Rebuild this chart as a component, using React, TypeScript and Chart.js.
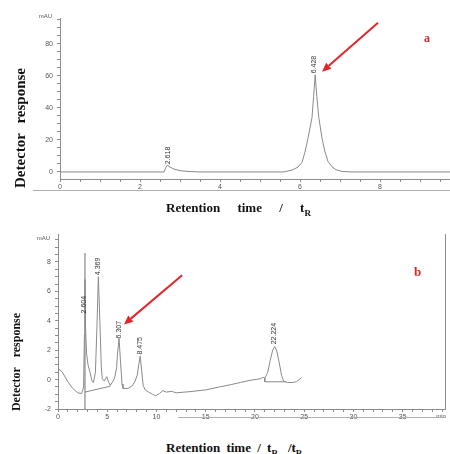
import React, { useEffect, useRef } from "react";
import { Chart, registerables } from "chart.js";

Chart.register(...registerables);

// ---------- Panel a ----------
const TOP_TIME = [0, 1.0, 2.0, 2.6, 2.64, 2.68, 2.75, 2.85, 3.0, 3.2, 3.5, 4.5, 5.6, 5.8, 5.95, 6.05, 6.12, 6.2, 6.3, 6.34, 6.38, 6.42, 6.47, 6.55, 6.62, 6.7, 6.8, 6.9, 7.05, 7.3, 8.5, 9.75];
const TOP_SIGNAL = [0, 0, 0, 0, 2.5, 4.2, 3.0, 1.8, 0.8, 0.3, 0, 0, 0, 1.2, 3.0, 6, 12, 21, 34, 47, 60.6, 47, 34, 21, 13, 6.5, 3.2, 1.4, 0.3, 0, 0, 0];
const TOP_PEAK_LABELS = ["2.618", "6.428"];
const TOP_PEAK_TIMES = [2.7, 6.36];
const TOP_PEAK_BASES = [4.8, 61.5];
const TOP_Y_MAJOR = [0, 20, 40, 60, 80];
const TOP_X_MAJOR = [0, 2, 4, 6, 8];
const TOP_ARROW = { from: [7.95, 93], to: [6.55, 62.5] };

// ---------- Panel b ----------
const BOT_TIME = [0, 0.4, 1.0, 1.5, 2.0, 2.4, 2.6, 2.68, 2.74, 2.8, 2.9, 3.05, 3.25, 3.45, 3.6, 3.8, 3.95, 4.1, 4.25, 4.4, 4.5, 4.7, 4.95, 5.1, 5.3, 5.55, 5.75, 5.95, 6.05, 6.2, 6.35, 6.5, 6.6, 7.1, 7.5, 7.8, 8.05, 8.2, 8.35, 8.5, 8.65, 8.85, 9.2, 9.6, 9.9, 10.3, 10.65, 11.0, 11.55, 12.0, 13.4, 15.0, 16.4, 17.5, 18.5, 19.5, 20.5, 20.8, 21.0, 21.3, 21.55, 21.8, 22.0, 22.2, 22.45, 22.7, 22.9, 23.3, 23.8, 24.2, 24.5, 24.75];
const BOT_SIGNAL = [0.75, 0.55, -0.15, -0.6, -0.9, -0.95, -0.5, 3.0, 6.8, 3.5, 1.8, 1.0, 0.5, -0.1, -0.2, 0.5, 3.5, 7.0, 4.0, 0.8, 0.05, -0.1, 0.2, -0.1, -0.4, -0.15, 0.1, 0.8, 1.8, 2.8, 1.2, -0.3, -0.6, -0.6, -0.45, -0.15, 0.3, 1.0, 1.6, 0.6, -0.4, -0.7, -0.85, -1.0, -1.1, -0.95, -0.75, -0.85, -0.8, -0.9, -0.82, -0.7, -0.5, -0.35, -0.2, -0.05, 0.05, 0.15, 0.1, 0.5, 1.3, 2.0, 2.25, 2.0, 1.2, 0.3, -0.1, -0.2, -0.2, -0.15, 0.0, 0.15];
const BOT_SPIKE_TIME = [2.74, 2.74];
const BOT_SPIKE_SIGNAL = [-2, 8.6];
const BOT_BASE1_TIME = [2.74, 5.3];
const BOT_BASE1_SIGNAL = [-0.85, -0.45];
const BOT_BASE2_TIME = [21.0, 21.0, 23.1];
const BOT_BASE2_SIGNAL = [0.1, -0.15, -0.15];
const BOT_PEAK_LABELS = ["2.604", "4.369", "6.307", "8.475", "22.224"];
const BOT_PEAK_TIMES = [2.62, 4.05, 6.2, 8.3, 21.9];
const BOT_PEAK_BASES = [4.5, 7.1, 2.8, 1.7, 2.4];
const BOT_Y_MAJOR = [-2, 0, 2, 4, 6, 8];
const BOT_X_MAJOR = [0, 5, 10, 15, 20, 25, 30, 35];
const BOT_ARROW = { from: [12.6, 7.1], to: [6.7, 3.75] };

const TRACE = "#8a8a8a";
const AXIS = "#8c8c8c";
const TICKTXT = "#555";
const SANS = '"Liberation Sans", Arial, sans-serif';
const SERIF = '"Liberation Serif", "Times New Roman", serif';

const pts = (xs: number[], ys: number[]) => xs.map((x, i) => ({ x, y: ys[i] }));
const range = (a: number, b: number, s: number) => {
  const out: number[] = [];
  for (let v = a; v <= b + 1e-9; v += s) out.push(Math.round(v * 100) / 100);
  return out;
};

type OverlayCfg = {
  labels: string[];
  times: number[];
  bases: number[];
  arrow: { from: number[]; to: number[] };
  mauDy: number;
  minLabel: boolean;
  rightBorder: boolean;
  frameY: number;
  frameX0: number;
};

const overlay = (cfg: OverlayCfg) => ({
  id: "overlay",
  afterDatasetsDraw(chart: any) {
    const { ctx, chartArea, scales } = chart;
    const x = scales.x;
    const y = scales.y;
    ctx.save();
    ctx.fillStyle = TICKTXT;
    ctx.font = `6px ${SANS}`;
    ctx.textAlign = "right";
    ctx.textBaseline = "middle";
    ctx.fillText("mAU", chartArea.left - 8, chartArea.top + cfg.mauDy);
    if (cfg.minLabel) {
      ctx.textAlign = "center";
      ctx.font = `6px ${SANS}`;
      ctx.fillText("min", chartArea.right - 4, chartArea.bottom + 7);
    }
    if (cfg.rightBorder) {
      ctx.strokeStyle = AXIS;
      ctx.lineWidth = 1;
      ctx.beginPath();
      ctx.moveTo(chartArea.right + 0.5, chartArea.top);
      ctx.lineTo(chartArea.right + 0.5, chartArea.bottom);
      ctx.stroke();
    }
    ctx.strokeStyle = "#b0b0b0";
    ctx.lineWidth = 1;
    ctx.beginPath();
    ctx.moveTo(cfg.frameX0, chartArea.bottom + cfg.frameY + 0.5);
    ctx.lineTo(chartArea.right, chartArea.bottom + cfg.frameY + 0.5);
    ctx.stroke();
    ctx.fillStyle = "#333";
    ctx.font = `7px ${SANS}`;
    ctx.textAlign = "left";
    ctx.textBaseline = "middle";
    cfg.labels.forEach((lab, i) => {
      const px = x.getPixelForValue(cfg.times[i]);
      const py = y.getPixelForValue(cfg.bases[i]);
      ctx.save();
      ctx.translate(px, py);
      ctx.rotate(-Math.PI / 2);
      ctx.fillText(lab, 0, 0);
      ctx.restore();
    });
    const x1 = x.getPixelForValue(cfg.arrow.from[0]);
    const y1 = y.getPixelForValue(cfg.arrow.from[1]);
    const x2 = x.getPixelForValue(cfg.arrow.to[0]);
    const y2 = y.getPixelForValue(cfg.arrow.to[1]);
    const ang = Math.atan2(y2 - y1, x2 - x1);
    const head = 9;
    const hw = 4;
    const bx = x2 - head * Math.cos(ang);
    const by = y2 - head * Math.sin(ang);
    ctx.strokeStyle = "#e3262b";
    ctx.fillStyle = "#e3262b";
    ctx.lineWidth = 2;
    ctx.beginPath();
    ctx.moveTo(x1, y1);
    ctx.lineTo(bx, by);
    ctx.stroke();
    ctx.beginPath();
    ctx.moveTo(x2, y2);
    ctx.lineTo(bx + hw * Math.sin(ang), by - hw * Math.cos(ang));
    ctx.lineTo(bx - hw * Math.sin(ang), by + hw * Math.cos(ang));
    ctx.closePath();
    ctx.fill();
    ctx.restore();
  },
});

const axisCommon = {
  grid: { drawOnChartArea: false, drawTicks: true, tickLength: 3, color: AXIS, lineWidth: 1 },
  border: { display: true, color: AXIS, width: 1 },
};

function makeConfig(opts: {
  datasets: any[];
  xMin: number;
  xMax: number;
  xTicks: number[];
  xMajor: number[];
  yMin: number;
  yMax: number;
  yTicks: number[];
  yMajor: number[];
  yWidth: number;
  padTop: number;
  padRight: number;
  xHeight: number;
  overlayCfg: OverlayCfg;
}) {
  return {
    type: "line",
    data: { datasets: opts.datasets },
    options: {
      animation: false,
      responsive: false,
      maintainAspectRatio: false,
      layout: { padding: { left: 0, right: opts.padRight, top: opts.padTop, bottom: 0 } },
      plugins: { legend: { display: false }, tooltip: { enabled: false }, title: { display: false } },
      elements: { point: { radius: 0 }, line: { tension: 0 } },
      scales: {
        x: {
          type: "linear",
          min: opts.xMin,
          max: opts.xMax,
          ...axisCommon,
          afterBuildTicks: (a: any) => {
            a.ticks = opts.xTicks.map((v) => ({ value: v }));
          },
          afterFit: (s: any) => {
            s.height = opts.xHeight;
          },
          ticks: {
            autoSkip: false,
            maxRotation: 0,
            padding: 1,
            color: TICKTXT,
            font: { size: 7, family: SANS },
            callback: (v: any) => (opts.xMajor.includes(Number(v)) ? String(v) : ""),
          },
        },
        y: {
          type: "linear",
          min: opts.yMin,
          max: opts.yMax,
          ...axisCommon,
          afterBuildTicks: (a: any) => {
            a.ticks = opts.yTicks.map((v) => ({ value: v }));
          },
          afterFit: (s: any) => {
            s.width = opts.yWidth;
          },
          ticks: {
            autoSkip: false,
            padding: 4,
            color: TICKTXT,
            font: { size: 7, family: SANS },
            callback: (v: any) => (opts.yMajor.includes(Number(v)) ? String(v) : ""),
          },
        },
      },
    },
    plugins: [overlay(opts.overlayCfg)],
  };
}

function ChartCanvas({ width, height, top, config }: { width: number; height: number; top: number; config: any }) {
  const ref = useRef<HTMLCanvasElement | null>(null);
  useEffect(() => {
    if (!ref.current) return;
    const chart = new Chart(ref.current, config);
    return () => chart.destroy();
  }, []);
  return (
    <canvas
      ref={ref}
      width={width}
      height={height}
      style={{ position: "absolute", left: 0, top, width, height }}
    />
  );
}

const line = (xs: number[], ys: number[], color = TRACE, width = 1) => ({
  data: pts(xs, ys),
  borderColor: color,
  borderWidth: width,
  pointRadius: 0,
  fill: false,
});

const topConfig = makeConfig({
  datasets: [line(TOP_TIME, TOP_SIGNAL)],
  xMin: 0,
  xMax: 9.75,
  xTicks: range(0, 9.5, 0.5),
  xMajor: TOP_X_MAJOR,
  yMin: -4.4,
  yMax: 96,
  yTicks: range(0, 95, 5),
  yMajor: TOP_Y_MAJOR,
  yWidth: 60,
  padTop: 18,
  padRight: 0,
  xHeight: 21,
  overlayCfg: {
    labels: TOP_PEAK_LABELS,
    times: TOP_PEAK_TIMES,
    bases: TOP_PEAK_BASES,
    arrow: TOP_ARROW,
    mauDy: -2,
    minLabel: false,
    rightBorder: false,
    frameY: 11,
    frameX0: 33,
  },
});

const botConfig = makeConfig({
  datasets: [
    line(BOT_TIME, BOT_SIGNAL),
    line(BOT_SPIKE_TIME, BOT_SPIKE_SIGNAL, "#6f6f6f", 1),
    line(BOT_BASE1_TIME, BOT_BASE1_SIGNAL, "#8a8a8a", 1),
    line(BOT_BASE2_TIME, BOT_BASE2_SIGNAL, "#8a8a8a", 1),
  ],
  xMin: 0,
  xMax: 39.3,
  xTicks: range(0, 39, 1),
  xMajor: BOT_X_MAJOR,
  yMin: -2,
  yMax: 9.9,
  yTicks: range(-2, 9.5, 0.5),
  yMajor: BOT_Y_MAJOR,
  yWidth: 58,
  padTop: 19,
  padRight: 5,
  xHeight: 21,
  overlayCfg: {
    labels: BOT_PEAK_LABELS,
    times: BOT_PEAK_TIMES,
    bases: BOT_PEAK_BASES,
    arrow: BOT_ARROW,
    mauDy: 4,
    minLabel: true,
    rightBorder: true,
    frameY: 8,
    frameX0: 178,
  },
});

const titleStyle: React.CSSProperties = {
  position: "absolute",
  fontFamily: SERIF,
  fontWeight: "bold",
  color: "#111",
  whiteSpace: "nowrap",
  lineHeight: "16px",
};

export default function App() {
  return (
    <div style={{ position: "absolute", left: 0, top: 0, width: 450, height: 454, overflow: "hidden", background: "#fff" }}>
      <ChartCanvas width={450} height={200} top={0} config={topConfig} />
      <ChartCanvas width={450} height={215} top={215} config={botConfig} />

      <div
        style={{
          ...titleStyle,
          fontSize: 15,
          width: 160,
          textAlign: "center",
          left: 20 - 80,
          top: 128 - 8,
          transform: "rotate(-90deg)",
          wordSpacing: 6,
        }}
      >
        Detector response
      </div>
      <div style={{ ...titleStyle, fontSize: 13, left: 166, top: 200, wordSpacing: 14 }}>
        Retention time / t<sub style={{ fontSize: 9 }}>R</sub>
      </div>
      <div style={{ ...titleStyle, fontSize: 12, color: "#d92626", left: 424, top: 30 }}>a</div>

      <div
        style={{
          ...titleStyle,
          fontSize: 12,
          width: 120,
          textAlign: "center",
          left: 16 - 60,
          top: 362 - 8,
          transform: "rotate(-90deg)",
          wordSpacing: 7,
        }}
      >
        Detector response
      </div>
      <div style={{ ...titleStyle, fontSize: 13, color: "#d92626", left: 414, top: 264 }}>b</div>
      <div style={{ ...titleStyle, fontSize: 13, left: 166, top: 440, wordSpacing: 3 }}>
        Retention time / t<sub style={{ fontSize: 9 }}>R</sub>
        <span style={{ marginLeft: 10 }}>/t<sub style={{ fontSize: 9 }}>R</sub></span>
      </div>
    </div>
  );
}
